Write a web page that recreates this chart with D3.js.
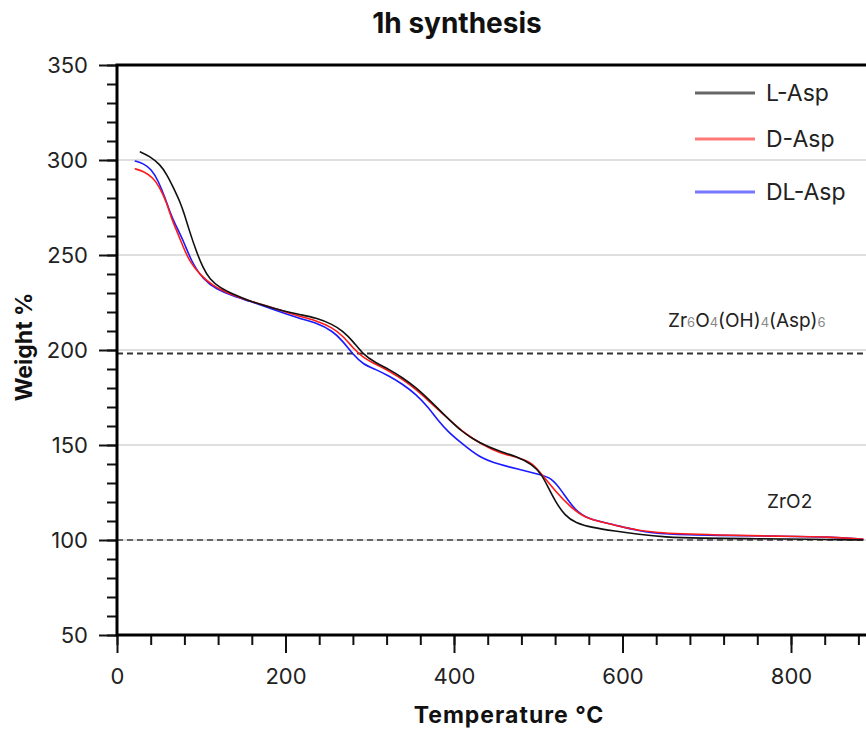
<!DOCTYPE html>
<html>
<head>
<meta charset="utf-8">
<script src="https://cdnjs.cloudflare.com/ajax/libs/d3/7.8.5/d3.min.js"></script>
<style>
  body { margin: 0; background: #fff; }
  text { font-family: Inter, "Liberation Sans", Arial, sans-serif; }
</style>
</head>
<body>
<script>
var width = 866,
    height = 729;

// L-Asp
var lAspT = [27, 39, 51, 59, 67, 75, 80, 86, 94, 102, 110, 122, 138, 157, 177, 197, 217, 236, 256, 268, 280, 292, 307, 323, 339, 355, 370, 386, 410, 430, 453, 473, 493, 504, 512, 520, 532, 544, 564, 591, 619, 650, 690, 760, 824, 886];
var lAspW = [304.4, 302, 297.7, 292.5, 285.4, 277.8, 271.4, 262.6, 252, 243.3, 237.2, 232.8, 229.3, 225.8, 223.2, 220.5, 218.6, 217, 213.5, 210, 204.7, 197.7, 193.3, 189.8, 185.4, 180.2, 174, 167, 156.5, 151.2, 146.8, 144.2, 139.8, 134.6, 127.5, 120.5, 112.6, 109.1, 106.5, 104.7, 103, 101.5, 100.9, 100.7, 100.4, 100];

// D-Asp
var dAspT = [21, 31, 43, 51, 59, 65, 71, 79, 86, 98, 114, 130, 157, 185, 217, 236, 256, 268, 280, 292, 307, 323, 339, 355, 370, 394, 414, 433, 453, 477, 493, 504, 520, 539, 555, 579, 603, 634, 717, 780, 847, 886];
var dAspW = [295.4, 294.2, 290.7, 285.4, 277.5, 268.8, 262.6, 253.8, 246.8, 239.8, 233.7, 230.2, 225.8, 222.3, 217.6, 215.6, 211.7, 207.4, 201.2, 195.9, 192.5, 189, 184.5, 179.3, 173.2, 163.5, 155.6, 150.4, 145.9, 143.3, 140.7, 134.6, 125.8, 117, 111.7, 109.1, 106.5, 103.6, 102.6, 102, 101.7, 100.4];

// DL-Asp
var dlAspT = [21, 31, 41, 49, 57, 63, 69, 79, 88, 102, 118, 138, 157, 185, 217, 236, 256, 268, 280, 292, 307, 323, 339, 355, 370, 380, 394, 406, 430, 453, 477, 500, 516, 528, 544, 560, 588, 619, 650, 714, 780, 847, 886];
var dlAspW = [299.5, 298.3, 295.1, 289, 280.2, 272.3, 266.2, 257.4, 246.8, 237.2, 231.9, 228.4, 225.8, 221.4, 216.5, 214.4, 210, 204.7, 197.7, 192.5, 189.8, 186.3, 182, 176.7, 169.6, 163.5, 156.5, 152.1, 143.3, 139.8, 137.2, 134.6, 132.8, 125.8, 115.3, 110.9, 108.3, 104.7, 103, 102.4, 102, 101.7, 100.4];

var seriesNames = ["L-Asp", "D-Asp", "DL-Asp"];
var seriesColors = ["#111111", "#ff1a1a", "#1a1aff"];
var legendColors = ["#666666", "#ff7777", "#7777ff"];

var xTicks = [0, 200, 400, 600, 800];
var yTicks = [50, 100, 150, 200, 250, 300, 350];
var refLevels = [198.2, 100];

var margin = {left: 117, top: 65, bottom: 635};

var xScale = d3.scaleLinear()
    .domain([0, 900])
    .range([margin.left, margin.left + 900 * 0.8425]);

var yScale = d3.scaleLinear()
    .domain([50, 350])
    .range([margin.bottom, margin.top]);

var svg = d3.select("body")
    .append("svg")
    .attr("width", width)
    .attr("height", height);

//Gridlines
svg.append("g")
   .selectAll("line")
   .data([100, 150, 200, 250, 300])
   .enter()
   .append("line")
   .attr("x1", xScale(0))
   .attr("x2", xScale(900))
   .attr("y1", function(d) { return yScale(d); })
   .attr("y2", function(d) { return yScale(d); })
   .attr("stroke", "#d4d4d4")
   .attr("stroke-width", 1.5);

//Reference dashed lines
svg.append("g")
   .selectAll("line")
   .data(refLevels)
   .enter()
   .append("line")
   .attr("x1", xScale(0))
   .attr("x2", xScale(900))
   .attr("y1", function(d) { return yScale(d); })
   .attr("y2", function(d) { return yScale(d); })
   .attr("stroke", function(d, i) { return i == 0 ? "#333" : "#666"; })
   .attr("stroke-width", 2)
   .attr("stroke-dasharray", "6,4");

//Series
var series = [
  {name: seriesNames[0], t: lAspT, w: lAspW},
  {name: seriesNames[1], t: dAspT, w: dAspW},
  {name: seriesNames[2], t: dlAspT, w: dlAspW}
];

var line = d3.line()
    .x(function(d) { return xScale(d[0]); })
    .y(function(d) { return yScale(d[1]); })
    .curve(d3.curveBasis);

svg.append("g")
   .selectAll("path")
   .data(series.slice().reverse())
   .enter()
   .append("path")
   .attr("d", function(s) { return line(d3.zip(s.t, s.w)); })
   .attr("fill", "none")
   .attr("stroke", function(s) { return seriesColors[seriesNames.indexOf(s.name)]; })
   .attr("stroke-width", 1.6);

//Axes
var xAxis = d3.axisBottom(xScale).tickValues(xTicks).tickSize(18).tickPadding(14);
var xMinor = d3.axisBottom(xScale).tickValues(d3.range(0, 900, 40)).tickSize(10).tickFormat("");
var yAxis = d3.axisLeft(yScale).tickValues(yTicks).tickSize(18).tickPadding(11);
var yMinor = d3.axisLeft(yScale).tickValues(d3.range(50, 351, 10)).tickSize(10).tickFormat("");

svg.append("g")
   .attr("transform", "translate(0," + margin.bottom + ")")
   .call(xMinor);
svg.append("g")
   .attr("class", "xaxis")
   .attr("transform", "translate(0," + margin.bottom + ")")
   .call(xAxis);
svg.append("g")
   .attr("transform", "translate(" + margin.left + ",0)")
   .call(yMinor);
svg.append("g")
   .attr("class", "yaxis")
   .attr("transform", "translate(" + margin.left + ",0)")
   .call(yAxis);

svg.selectAll(".domain").remove();
svg.selectAll(".tick line").attr("stroke", "#111").attr("stroke-width", 2);
svg.selectAll(".xaxis text, .yaxis text")
   .attr("font-family", "Inter, sans-serif")
   .attr("font-size", "22px")
   .attr("fill", "#222");
svg.selectAll(".xaxis text").attr("dy", "0.75em");
svg.selectAll(".yaxis text").attr("dy", "0.36em");

//Frame
svg.append("path")
   .attr("d", "M" + xScale(900) + "," + margin.top + "H" + margin.left + "V" + margin.bottom + "H" + xScale(900))
   .attr("fill", "none")
   .attr("stroke", "#000")
   .attr("stroke-width", 3);

//Annotations
var ann1 = svg.append("text")
   .attr("x", 668)
   .attr("y", 327)
   .attr("font-size", "19px")
   .attr("fill", "#222");
var parts = [["Zr", false], ["6", true], ["O", false], ["4", true], ["(OH)", false], ["4", true], ["(Asp)", false], ["6", true]];
parts.forEach(function(p) {
  ann1.append("tspan")
      .attr("font-size", p[1] ? "13px" : "19px")
      .attr("fill", p[1] ? "#888" : "#222")
      .text(p[0]);
});

svg.append("text")
   .attr("x", 767)
   .attr("y", 508)
   .attr("font-size", "19px")
   .attr("fill", "#222")
   .text("ZrO2");

//Legend
var legendY = [93, 139, 192];
var legend = svg.append("g")
   .selectAll("g")
   .data(seriesNames)
   .enter()
   .append("g")
   .attr("transform", function(d, i) { return "translate(695," + legendY[i] + ")"; });

legend.append("line")
   .attr("x1", 0)
   .attr("x2", 60)
   .attr("stroke", function(d, i) { return legendColors[i]; })
   .attr("stroke-width", 3);

legend.append("text")
   .attr("x", 71)
   .attr("dy", "0.36em")
   .attr("font-size", "23px")
   .attr("fill", "#222")
   .text(function(d) { return d; });

//Titles
svg.append("text")
   .attr("x", 457)
   .attr("y", 33)
   .attr("text-anchor", "middle")
   .attr("font-size", "28px")
   .attr("font-weight", "bold")
   .attr("fill", "#111")
   .text("1h synthesis");

svg.append("text")
   .attr("x", 509)
   .attr("y", 723)
   .attr("text-anchor", "middle")
   .attr("font-size", "23px")
   .attr("letter-spacing", "1px")
   .attr("font-weight", "bold")
   .attr("fill", "#111")
   .text("Temperature °C");

svg.append("text")
   .attr("transform", "translate(32,347) rotate(-90)")
   .attr("text-anchor", "middle")
   .attr("font-size", "23px")
   .attr("font-weight", "bold")
   .attr("fill", "#111")
   .text("Weight %");
</script>
</body>
</html>
